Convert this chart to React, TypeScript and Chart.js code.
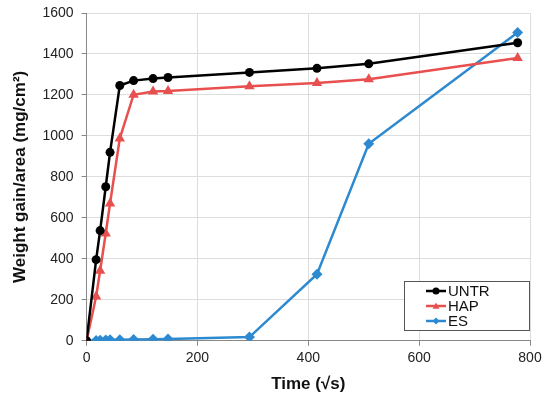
import React, { useEffect, useRef } from "react";
import { Chart, registerables } from "chart.js";

Chart.register(...registerables);

const times = [0, 17.3, 24.5, 34.6, 42.4, 60, 84.9, 120, 147, 293.9, 415.7, 509.1, 777.7];
const untr = [0, 396, 538, 752, 920, 1246, 1270, 1280, 1285, 1310, 1330, 1352, 1455];
const hap = [0, 216, 342, 524, 670, 988, 1201, 1217, 1219, 1243, 1258, 1277, 1380];
const es = [0, 2, 3, 4, 5, 5, 6, 7, 9, 18, 325, 962, 1505];
const seriesNames = ["UNTR", "HAP", "ES"];
const xTitle = "Time (\u221As)";
const yTitle = "Weight gain/area (mg/cm\u00B2)";

const colors = ["#000000", "#E8504F", "#2E8AD0"];
const styles = ["circle", "triangle", "rectRot"];
const radii = [4.5, 6, 5.5];

const legendPlugin = {
  id: "boxLegend",
  afterDraw(chart: any) {
    const ctx = chart.ctx;
    const x0 = 404, y0 = 281, w = 125, h = 49;
    ctx.save();
    ctx.fillStyle = "#ffffff";
    ctx.fillRect(x0, y0, w, h);
    ctx.strokeStyle = "#555555";
    ctx.lineWidth = 1;
    ctx.strokeRect(x0 + 0.5, y0 + 0.5, w, h);
    ctx.font = "15px 'Liberation Sans', Arial, sans-serif";
    ctx.textBaseline = "middle";
    chart.data.datasets.forEach((ds: any, i: number) => {
      const cy = y0 + 10 + i * 15;
      ctx.strokeStyle = ds.borderColor;
      ctx.lineWidth = 2.5;
      ctx.beginPath();
      ctx.moveTo(x0 + 22, cy);
      ctx.lineTo(x0 + 42, cy);
      ctx.stroke();
      ctx.fillStyle = ds.borderColor;
      const r = 3.5;
      const cx = x0 + 32;
      ctx.beginPath();
      if (ds.pointStyle === "circle") {
        ctx.arc(cx, cy, r, 0, Math.PI * 2);
      } else if (ds.pointStyle === "triangle") {
        ctx.moveTo(cx, cy - r);
        ctx.lineTo(cx + r, cy + r * 0.8);
        ctx.lineTo(cx - r, cy + r * 0.8);
        ctx.closePath();
      } else {
        ctx.moveTo(cx, cy - r);
        ctx.lineTo(cx + r, cy);
        ctx.lineTo(cx, cy + r);
        ctx.lineTo(cx - r, cy);
        ctx.closePath();
      }
      ctx.fill();
      ctx.fillStyle = "#111111";
      ctx.fillText(ds.label, x0 + 44, cy + 1);
    });
    ctx.restore();
  },
};

export default function App() {
  const ref = useRef<HTMLCanvasElement>(null);
  useEffect(() => {
    if (!ref.current) return;
    const all = [untr, hap, es];
    const chart = new Chart(ref.current, {
      type: "line",
      data: {
        datasets: all.map((vals, i) => ({
          label: seriesNames[i],
          data: times.map((t, j) => ({ x: t, y: vals[j] })),
          borderColor: colors[i],
          backgroundColor: colors[i],
          borderWidth: 2.5,
          pointStyle: styles[i],
          pointRadius: radii[i],
          pointBorderWidth: 0,
          tension: 0,
        })),
      },
      options: {
        animation: false,
        responsive: false,
        maintainAspectRatio: false,
        layout: { padding: { left: 10, right: 20, top: 13, bottom: 4 } },
        plugins: { legend: { display: false }, tooltip: { enabled: false } },
        scales: {
          x: {
            type: "linear",
            min: 0,
            max: 800,
            ticks: {
              stepSize: 200,
              color: "#222",
              padding: 4,
              font: { family: "'Liberation Sans', Arial", size: 14 },
              callback: (v: any) => String(v),
            },
            grid: { color: "#dddddd", tickLength: 5, tickColor: "#888" },
            border: { color: "#888888" },
            title: {
              display: true,
              text: xTitle,
              color: "#111",
              font: { family: "'Liberation Sans', Arial", size: 17, weight: "bold" },
              padding: { top: 4, bottom: 0 },
            },
          },
          y: {
            min: 0,
            max: 1600,
            afterFit: (s: any) => {
              s.paddingTop = 0;
            },
            ticks: {
              stepSize: 200,
              color: "#222",
              padding: 8,
              font: { family: "'Liberation Sans', Arial", size: 14 },
              callback: (v: any) => String(v),
            },
            grid: { color: "#dddddd", tickLength: 5, tickColor: "#888" },
            border: { color: "#888888" },
            title: {
              display: true,
              text: yTitle,
              color: "#111",
              font: { family: "'Liberation Sans', Arial", size: 17, weight: "bold" },
              padding: { top: 0, bottom: 4 },
            },
          },
        },
      },
      plugins: [legendPlugin],
    });
    return () => chart.destroy();
  }, []);
  return (
    <div style={{ position: "absolute", left: 0, top: 0, width: 550, height: 399, background: "#fff" }}>
      <canvas ref={ref} width={550} height={399} />
    </div>
  );
}
